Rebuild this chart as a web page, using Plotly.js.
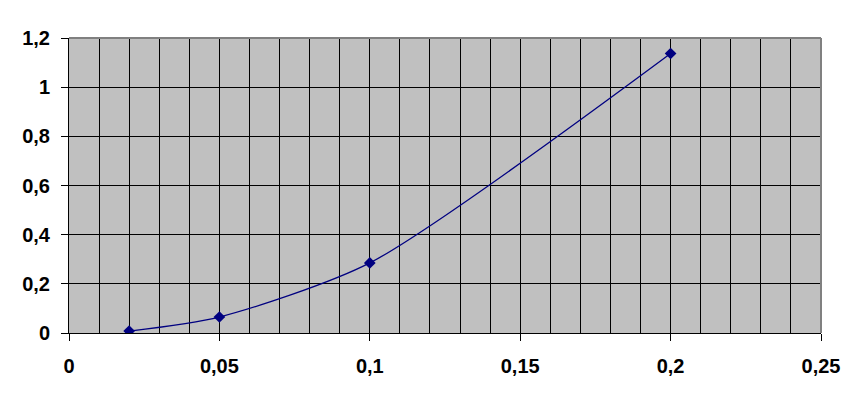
<!DOCTYPE html>
<html>
<head>
<meta charset="utf-8">
<script src="https://cdn.plot.ly/plotly-3.0.1.min.js"></script>
<style>
  html, body { margin: 0; padding: 0; background: #fff; }
  #chart { width: 864px; height: 404px; }
</style>
</head>
<body>
<div id="chart"></div>
<script>
// values
const xValues = [0.02, 0.05, 0.1, 0.2];
const yValues = [0.008, 0.065, 0.285, 1.137];
const xTickVals = [0, 0.05, 0.1, 0.15, 0.2, 0.25];
const yTickVals = [0, 0.2, 0.4, 0.6, 0.8, 1, 1.2];

const navy = '#000080';
const tickFont = { family: 'Liberation Sans, Arial, sans-serif', size: 20, color: '#000', weight: 'bold' };

const traces = [{
    x: xValues,
    y: yValues,
    mode: 'lines+markers',
    line: { color: navy, width: 1.3, shape: 'spline', smoothing: 0.7 },
    marker: { color: navy, size: 9, symbol: 'diamond' },
    hoverinfo: 'skip'
}];

const layout = {
    width: 864,
    height: 404,
    margin: { l: 69, r: 43, t: 38, b: 71 },
    paper_bgcolor: '#fff',
    plot_bgcolor: '#c0c0c0',
    showlegend: false,
    separators: ',.',
    xaxis: {
        range: [0, 0.25],
        tickvals: xTickVals,
        ticks: 'outside',
        ticklen: 7,
        tickcolor: '#000',
        tickwidth: 1,
        tickfont: tickFont,
        ticklabelstandoff: 8,
        showline: true,
        linecolor: '#000',
        linewidth: 1,
        showgrid: true,
        gridcolor: '#000',
        gridwidth: 1,
        minor: { dtick: 0.01, showgrid: true, gridcolor: '#000', gridwidth: 1 },
        zeroline: false
    },
    yaxis: {
        range: [0, 1.2],
        tickvals: yTickVals,
        ticks: 'outside',
        ticklen: 7,
        tickcolor: '#000',
        tickwidth: 1,
        tickfont: tickFont,
        ticklabelstandoff: 7,
        showline: true,
        linecolor: '#000',
        linewidth: 1,
        showgrid: true,
        gridcolor: '#000',
        gridwidth: 1,
        zeroline: false
    },
    shapes: [
        // grey frame on top and right side of the plot area
        { type: 'line', xref: 'x domain', yref: 'y domain', x0: 0, x1: 1, y0: 1, y1: 1, line: { color: '#808080', width: 2 } },
        { type: 'line', xref: 'x domain', yref: 'y domain', x0: 1, x1: 1, y0: 0, y1: 1, line: { color: '#808080', width: 2 } }
    ]
};

Plotly.newPlot('chart', traces, layout, { staticPlot: true, displayModeBar: false });
</script>
</body>
</html>
